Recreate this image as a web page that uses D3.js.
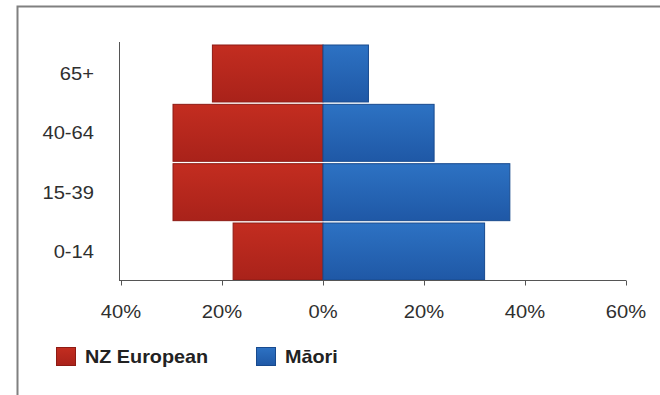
<!DOCTYPE html>
<html>
<head>
<meta charset="utf-8">
<script src="https://cdn.jsdelivr.net/npm/d3@7"></script>
<style>
  body { margin: 0; background: #fff; }
  text { font-family: "Liberation Sans", Arial, sans-serif; fill: #2f2f2f; }
</style>
</head>
<body>
<svg id="chart" width="660" height="395"></svg>
<script>
// data (percent of each population)
let ageGroups = ['0-14', '15-39', '40-64', '65+']
let nzEuropean = [17.8, 29.7, 29.7, 21.9]
let maori = [32, 37, 22, 9]
let xTicks = [-40, -20, 0, 20, 40, 60]
let seriesNames = ['NZ European', 'M\u0101ori']

let svg = d3.select('#chart')

// frame (top + left edge only)
svg.append('path')
  .attr('d', 'M17.5,395 L17.5,6.5 L660,6.5')
  .style('fill', 'none')
  .style('stroke', '#808080')
  .style('stroke-width', 2)

let defs = svg.append('defs')
function grad(id, top, bottom) {
  let g = defs.append('linearGradient').attr('id', id)
    .attr('x1', 0).attr('y1', 0).attr('x2', 0).attr('y2', 1)
  g.append('stop').attr('offset', '0%').attr('stop-color', top)
  g.append('stop').attr('offset', '100%').attr('stop-color', bottom)
}
grad('redGrad', '#c32d20', '#a9221a')
grad('blueGrad', '#2d72c3', '#1f58a6')

let x = d3.scaleLinear().domain([-40, 60]).range([121, 626])
let y = d3.scaleBand().domain(ageGroups).range([280, 45]).paddingInner(0.04).paddingOuter(0)

let rows = ageGroups.map((g, i) => ({ group: g, nz: nzEuropean[i], mo: maori[i] }))

// NZ European bars (to the left)
svg.selectAll('rect.nz').data(rows).enter().append('rect')
  .attr('class', 'nz')
  .attr('x', d => x(-d.nz))
  .attr('y', d => y(d.group))
  .attr('width', d => x(0) - x(-d.nz))
  .attr('height', y.bandwidth())
  .style('fill', 'url(#redGrad)')
  .style('stroke', '#8e1b14')
  .style('stroke-width', 1)

// Maori bars (to the right)
svg.selectAll('rect.mo').data(rows).enter().append('rect')
  .attr('class', 'mo')
  .attr('x', x(0))
  .attr('y', d => y(d.group))
  .attr('width', d => x(d.mo) - x(0))
  .attr('height', y.bandwidth())
  .style('fill', 'url(#blueGrad)')
  .style('stroke', '#184a8e')
  .style('stroke-width', 1)

// x axis
let xAxis = svg.append('g')
  .attr('transform', 'translate(0,280.5)')
  .call(d3.axisBottom(x).tickValues(xTicks).tickSize(5).tickFormat(''))
xAxis.select('.domain').attr('d', 'M119,0H' + x(60)).style('stroke', '#555')
xAxis.selectAll('.tick line').style('stroke', '#555')

// tick labels, stretched a bit wider like the reference
svg.selectAll('text.xlab').data(xTicks).enter().append('text')
  .attr('class', 'xlab')
  .attr('transform', d => `translate(${x(d)},318) scale(1.12,1)`)
  .attr('text-anchor', 'middle')
  .style('font-size', '18px')
  .text(d => Math.abs(d) + '%')

// y axis (line only)
svg.append('line')
  .attr('x1', 119.5).attr('x2', 119.5)
  .attr('y1', 42).attr('y2', 280)
  .style('stroke', '#555')

svg.selectAll('text.ylab').data(ageGroups).enter().append('text')
  .attr('class', 'ylab')
  .attr('transform', d => `translate(94,${y(d) + y.bandwidth() / 2 + 6.5}) scale(1.12,1)`)
  .attr('text-anchor', 'end')
  .style('font-size', '18px')
  .text(d => d)

// legend
let legendX = [56, 256]
let legendFill = ['url(#redGrad)', 'url(#blueGrad)']
let legendStroke = ['#8e1b14', '#184a8e']
seriesNames.forEach((name, i) => {
  svg.append('rect')
    .attr('x', legendX[i] + 0.5).attr('y', 347.5)
    .attr('width', 19).attr('height', 18)
    .style('fill', legendFill[i])
    .style('stroke', legendStroke[i])
  svg.append('text')
    .attr('transform', `translate(${legendX[i] + 29},363) scale(1.1,1)`)
    .style('font-size', '18px')
    .style('font-weight', 'bold')
    .style('fill', '#222')
    .text(name)
})
</script>
</body>
</html>
